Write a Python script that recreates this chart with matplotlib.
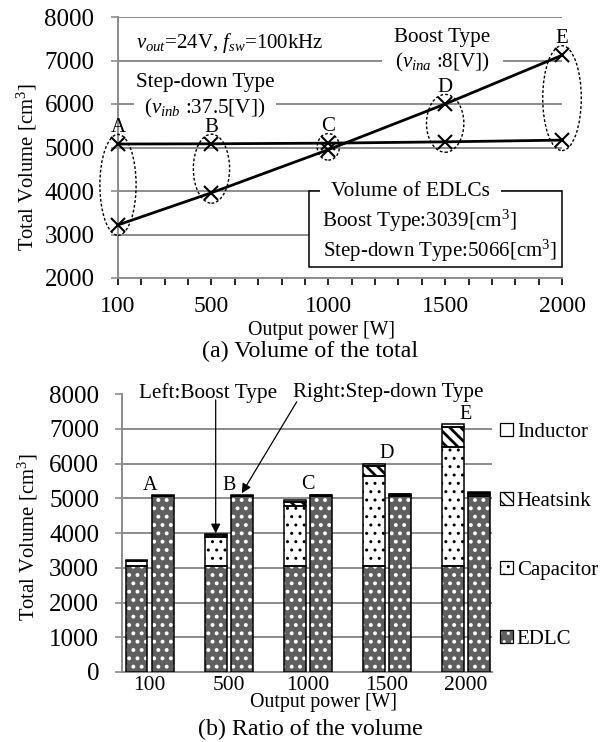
import matplotlib
matplotlib.use('Agg')
import matplotlib.pyplot as plt
from matplotlib.patches import Ellipse, Rectangle
from matplotlib.legend_handler import HandlerTuple
import numpy as np

plt.rcParams['font.family'] = ['Liberation Serif', 'DejaVu Serif']
plt.rcParams['mathtext.fontset'] = 'custom'
plt.rcParams['mathtext.rm'] = 'Liberation Serif'
plt.rcParams['mathtext.it'] = 'Liberation Serif:italic'
plt.rcParams['mathtext.bf'] = 'Liberation Serif:bold'
plt.rcParams['hatch.linewidth'] = 1.0

# ---------------- data ----------------
power_w = [100, 500, 1000, 1500, 2000]
point_labels = ['A', 'B', 'C', 'D', 'E']
boost_total = [3220, 3960, 4950, 6000, 7120]
stepdown_total = [5080, 5085, 5100, 5130, 5170]
edlc_boost = 3039
edlc_stepdown = 5066

categories = ['100', '500', '1000', '1500', '2000']
boost_edlc = [3039, 3039, 3039, 3039, 3039]
boost_cap = [150, 860, 1730, 2600, 3450]
boost_heat = [10, 40, 125, 290, 555]
boost_ind = [30, 20, 45, 70, 88]
step_edlc = [5066, 5066, 5066, 5066, 5066]
step_cap = [4, 5, 10, 20, 50]
step_heat = [6, 8, 20, 40, 45]
step_ind = [4, 5, 5, 5, 5]
components = ['EDLC', 'Capacitor', 'Heatsink', 'Inductor']

# ---------------- figure ----------------
W, H = 608, 742
fig = plt.figure(figsize=(W / 100, H / 100), dpi=100)


def fx(px):
    return px / W


def fy(py):
    return 1 - py / H


GRID = '#8c8c8c'

# ======== (a) total volume ========
ax1 = fig.add_axes([fx(118), fy(278), (562 - 118) / W, (278 - 17) / H])
ax1.set_xlim(100, 2000)
ax1.set_ylim(2000, 8000)
ax1.set_yticks(range(2000, 8001, 1000))
ax1.set_xticks(range(100, 2001, 100))
ax1.set_xticklabels([str(v) if v in power_w else '' for v in range(100, 2001, 100)])
ax1.set_axisbelow(True)
ax1.yaxis.grid(True, color=GRID, lw=1.4)
for s in ['top', 'right']:
    ax1.spines[s].set_visible(False)
for s in ['left', 'bottom']:
    ax1.spines[s].set_color(GRID)
    ax1.spines[s].set_linewidth(1.4)
ax1.tick_params(axis='x', direction='out', length=5, width=1.2, color='black',
                labelsize=17, pad=8)
ax1.tick_params(axis='y', direction='out', length=5, width=1.2, color=GRID,
                labelsize=18, pad=12)

ax1.plot(power_w, boost_total, '-', color='black', lw=2.0, marker='x', ms=10,
         mew=1.5, zorder=4, clip_on=False)
ax1.plot(power_w, stepdown_total, '-', color='black', lw=2.0, marker='x', ms=10,
         mew=1.5, zorder=4, clip_on=False)

ell_w = [155, 155, 95, 160, 165]
for i, p in enumerate(power_w):
    lo = min(boost_total[i], stepdown_total[i]) - 240
    hi = max(boost_total[i], stepdown_total[i]) + 220
    e = Ellipse((p, (lo + hi) / 2), width=ell_w[i], height=hi - lo, fill=False,
                ec='black', lw=1.0, ls=(0, (2.0, 1.5)), zorder=3, clip_on=False)
    ax1.add_patch(e)
    ax1.text(p, max(boost_total[i], stepdown_total[i]) + 380, point_labels[i],
             ha='center', va='center', fontsize=15, zorder=5)

ax1.text(177, 7400, r'$v_{out}$=24V, $f_{sw}$=100kHz', ha='left', va='center',
         fontsize=15)
ax1.text(1489, 7540, 'Boost Type', ha='center', va='center', fontsize=15.2, zorder=5)
ax1.text(1489, 6943, r'($v_{ina}$ :8[V])', ha='center', va='center', fontsize=15.2,
         zorder=2,
         bbox=dict(facecolor='white', edgecolor='none', boxstyle='square,pad=0.6',
                   mutation_aspect=0.2))
ax1.text(472, 6483, 'Step-down Type', ha='center', va='center', fontsize=15.2, zorder=5)
ax1.text(472, 5908, r'($v_{inb}$ :37.5[V])', ha='center', va='center', fontsize=15.2,
         zorder=2,
         bbox=dict(facecolor='white', edgecolor='none', boxstyle='square,pad=0.5',
                   mutation_aspect=0.2))

box = Rectangle((917, 2250), 2000 - 917, 4000 - 2250, facecolor='white',
                edgecolor='black', lw=1.1, zorder=2.5, clip_on=False)
ax1.add_patch(box)
ax1.text(1352, 4000, 'Volume of EDLCs', ha='center', va='center', fontsize=15.4,
         zorder=2.6,
         bbox=dict(facecolor='white', edgecolor='none', boxstyle='square,pad=0.5',
                   mutation_aspect=0.2))
ax1.text(975, 3172, 'Boost Type:%d[cm$^3$]' % edlc_boost, ha='left', va='baseline',
         fontsize=15.2, zorder=2.7)
ax1.text(978, 2483, 'Step-down Type:%d[cm$^3$]' % edlc_stepdown, ha='left',
         va='baseline', fontsize=15.0, zorder=2.7)

fig.text(fx(321), fy(330), 'Output power [W]', ha='center', va='center', fontsize=14.3)
fig.text(fx(27), fy(167), 'Total Volume [cm$^3$]', ha='center', va='center',
         fontsize=14.9, rotation=90)
fig.text(fx(310), fy(351), '(a) Volume of the total', ha='center', va='center',
         fontsize=17.3)

# ======== (b) ratio ========
ax2 = fig.add_axes([fx(122), fy(672), (492 - 122) / W, (672 - 394) / H])
x = np.arange(len(categories))
ax2.set_xlim(-0.35, 4.33)
ax2.set_ylim(0, 8000)
ax2.set_yticks(range(0, 8001, 1000))
ax2.set_xticks(x)
ax2.set_xticklabels(categories)
ax2.set_axisbelow(True)
ax2.yaxis.grid(True, color=GRID, lw=1.4)
ax2.get_ygridlines()[-1].set_visible(False)
for s in ['top', 'right']:
    ax2.spines[s].set_visible(False)
for s in ['left', 'bottom']:
    ax2.spines[s].set_color(GRID)
    ax2.spines[s].set_linewidth(1.4)
ax2.tick_params(axis='x', length=0, labelsize=15.5, pad=3)
ax2.tick_params(axis='y', direction='out', length=5, width=1.2, color=GRID,
                labelsize=18, pad=11.5)

styles = {
    'EDLC': dict(face='#5f5f5f', hatch='..', hcolor='white', hlw=1.6),
    'Capacitor': dict(face='white', hatch='..', hcolor='black', hlw=1.0),
    'Heatsink': dict(face='white', hatch='\\\\\\', hcolor='black', hlw=2.0),
    'Inductor': dict(face='white', hatch=None, hcolor='black', hlw=1.0),
}

bw = 0.275
off = 0.165


def set_hlw(patch, lw):
    if hasattr(patch, 'set_hatch_linewidth'):
        patch.set_hatch_linewidth(lw)


def stacked(xpos, comps):
    bottom = np.zeros(len(xpos))
    for name, vals in zip(components, comps):
        st = styles[name]
        vals = np.asarray(vals, dtype=float)
        bars = ax2.bar(xpos, vals, bw, bottom=bottom, color=st['face'],
                       edgecolor=st['hcolor'], hatch=st['hatch'], linewidth=0,
                       zorder=2)
        for b in bars:
            set_hlw(b, st['hlw'])
        ax2.bar(xpos, vals, bw, bottom=bottom, fill=False, edgecolor='black',
                linewidth=1.1, zorder=3)
        bottom = bottom + vals
    return bottom


tot_b = stacked(x - off, [boost_edlc, boost_cap, boost_heat, boost_ind])
tot_s = stacked(x + off, [step_edlc, step_cap, step_heat, step_ind])

for i in range(len(categories)):
    ax2.text(x[i], max(tot_b[i], tot_s[i]) + 290, point_labels[i], ha='center',
             va='center', fontsize=14.5, zorder=5)

ax2.text(0.737, 8029, 'Left:Boost Type', ha='center', va='center', fontsize=15.3,
         clip_on=False)
ax2.text(3.013, 8029, 'Right:Step-down Type', ha='center', va='center', fontsize=15.1,
         clip_on=False)
ax2.annotate('', xy=(1 - off, tot_b[1] + 30), xytext=(1 - off, 7830),
             arrowprops=dict(arrowstyle='-|>', color='black', lw=0.9,
                             mutation_scale=14, shrinkA=0, shrinkB=0))
ax2.annotate('', xy=(1 + off, tot_s[1] + 60), xytext=(1.86, 7775),
             arrowprops=dict(arrowstyle='-|>', color='black', lw=0.9,
                             mutation_scale=14, shrinkA=0, shrinkB=0))

handles = []
for name in components[::-1]:
    st = styles[name]
    h1 = Rectangle((0, 0), 1, 1, facecolor=st['face'], edgecolor=st['hcolor'],
                   hatch=st['hatch'], lw=0)
    set_hlw(h1, min(st['hlw'], 1.5))
    h2 = Rectangle((0, 0), 1, 1, fill=False, edgecolor='black', lw=0.9)
    handles.append((h1, h2))
ax2.legend(handles, components[::-1], loc='center left', bbox_to_anchor=(1.022, 0.489),
           frameon=False, fontsize=15, handlelength=0.6, handleheight=0.6,
           handletextpad=0.2, labelspacing=2.4, borderpad=0, borderaxespad=0,
           handler_map={tuple: HandlerTuple(ndivide=1)})

fig.text(fx(323), fy(703), 'Output power [W]', ha='center', va='center', fontsize=14.3)
fig.text(fx(28), fy(537), 'Total Volume [cm$^3$]', ha='center', va='center',
         fontsize=14.9, rotation=90)
fig.text(fx(310), fy(729), '(b) Ratio of the volume', ha='center', va='center',
         fontsize=17.3)

fig.savefig('out.png', dpi=100)
